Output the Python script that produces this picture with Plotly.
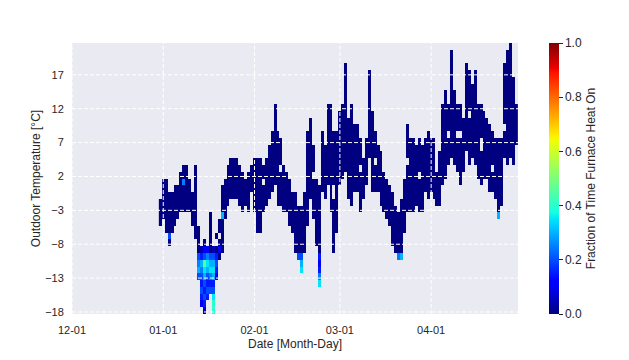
import numpy as np
import pandas as pd
import plotly.graph_objects as go

# ---------------- data ----------------
start_date = "2019-12-31"          # first day with data
# daily lowest / highest occupied temperature bin [°C]
day_lo = [-5, -4, -6, -8, -6, -5, -4, -3, -3, -3, -3, -5, -7,
          -13, -17, -18, -16, -15, -18, -13, -10, -9, -4, -2, -1, -1, -1, -2, -3, -2, -3,
          0, -3, -6, -6, -3, -2, -1, 0, 1, -2, -2, -3, -3, -5, -6, -9, -9, -12, -9,
          -5, -1, -4, -8, -14, 0, -1, 1, -3, -9, -6, 1, 2, 3, -1, -2, 0,
          0, -3, -1, 1, 5, 0, 0, 0, -2, -3, -4, -5, -8, -9, -10, -10, -6,
          -3, -3, -3, -2, -3, -3, 0, -1, 0, -1, -2, -2, 1, 2, 4, 5, 4, 3,
          1, 3, 6, 4, 5, 4, 2, 1, 2, 2, 0, 0, -1, -4, -2, 5, 4, 5, 4, 7]
day_hi = [-2, 1, 1, -1, -1, 0, 0, 2, 3, 3, 1, -1, 3,
          -6, -9, -8, -9, -4, -9, -7, -5, 0, 1, 3, 4, 4, 4, 3, 2, 1, 2,
          3, 4, 4, 4, 3, 4, 6, 8, 12, 8, 7, 3, 2, 1, -1, -1, -3, -3, -1,
          8, 10, 6, 1, 0, 8, 6, 12, 12, 8, 8, 11, 12, 18, 10, 12, 9,
          9, 7, 4, 7, 17, 11, 8, 6, 5, 2, 1, 0, -1, -3, -4, -2, 1,
          9, 7, 7, 6, 7, 6, 7, 8, 7, 7, 2, 5, 12, 14, 12, 20, 14, 12,
          12, 10, 18, 17, 15, 17, 12, 12, 11, 10, 9, 8, 7, 7, 7, 18, 20, 21, 16, 12]

# empty cells inside a day's range (day index, temperature)
hole_idx = [35, 41, 52, 59, 59, 68, 73, 84, 88, 98, 101, 102, 105, 109, 109, 113, 117, 19, 20]
hole_temp = [1, 3, 2, 0, -1, 3, 4, 4, 2, 8, 8, 8, 11, 6, 7, 3, 9, -8, -7]

# cells where the furnace ran part of the time (day index, temperature, fraction)
heat_idx = [13, 13, 13, 13,
            14, 14, 14, 14, 14, 14, 14, 14, 14,
            15, 15, 15, 15, 15, 15, 15, 15, 15, 15,
            16, 16, 16, 16, 16, 16, 16, 16,
            17, 17, 17, 17, 17, 17,
            18, 18, 18, 18, 18, 18, 18, 18, 18, 18,
            19, 19, 19, 19,
            20, 21, 3, 8, 47, 48, 48, 48,
            54, 54, 54, 54, 54, 81, 82, 115]
heat_temp = [-10, -11, -12, -13,
             -9, -10, -11, -12, -13, -14, -15, -16, -17,
             -9, -10, -11, -12, -13, -14, -15, -16, -17, -18,
             -9, -10, -11, -12, -13, -14, -15, -16,
             -10, -11, -12, -13, -14, -15,
             -9, -10, -11, -12, -13, -14, -15, -16, -17, -18,
             -10, -11, -12, -13,
             -9, -4, -7, 1, -10, -10, -11, -12,
             -10, -11, -12, -13, -14, -10, -10, -4]
heat_val = [0.20, 0.25, 0.30, 0.20,
            0.05, 0.15, 0.30, 0.25, 0.20, 0.15, 0.20, 0.15, 0.10,
            0.10, 0.20, 0.45, 0.35, 0.30, 0.20, 0.15, 0.20, 0.15, 0.05,
            0.10, 0.25, 0.35, 0.30, 0.20, 0.15, 0.20, 0.15,
            0.20, 0.30, 0.35, 0.25, 0.15, 0.20,
            0.05, 0.20, 0.30, 0.35, 0.30, 0.15, 0.20, 0.35, 0.40, 0.40,
            0.15, 0.20, 0.15, 0.10,
            0.10, 0.30, 0.20, 0.25, 0.20, 0.20, 0.30, 0.35,
            0.15, 0.10, 0.15, 0.25, 0.35, 0.25, 0.30, 0.30]

temp_bin_start = -18.3    # lower edge of the first 1 °C temperature bin
n_temp_bins = 40
x_range = ["2019-12-01", "2020-04-30 12:00"]
x_tick_vals = ["2019-12-01", "2020-01-01", "2020-02-01", "2020-03-01", "2020-04-01"]
x_tick_text = ["12-01", "01-01", "02-01", "03-01", "04-01"]
y_tick_vals = [-18, -13, -8, -3, 2, 7, 12, 17]
cbar_ticks = [0.0, 0.2, 0.4, 0.6, 0.8, 1.0]

# ---------------- build grid ----------------
dates = pd.date_range(start_date, periods=len(day_lo), freq="D")
y_centers = temp_bin_start + 0.5 + np.arange(n_temp_bins)


def tbin(t):
    return int(round(t - (temp_bin_start + 0.5)))


z = np.full((n_temp_bins, len(dates)), np.nan)
for i, (lo, hi) in enumerate(zip(day_lo, day_hi)):
    z[tbin(lo):tbin(hi) + 1, i] = 0.0
for i, t in zip(hole_idx, hole_temp):
    z[tbin(t), i] = np.nan
for i, t, v in zip(heat_idx, heat_temp, heat_val):
    z[tbin(t), i] = v

# matplotlib "jet" colormap
r_pts = [(0, 0), (0.35, 0), (0.66, 1), (0.89, 1), (1, 0.5)]
g_pts = [(0, 0), (0.125, 0), (0.375, 1), (0.64, 1), (0.91, 0), (1, 0)]
b_pts = [(0, 0.5), (0.11, 1), (0.34, 1), (0.65, 0), (1, 0)]
stops = sorted(set([p[0] for p in r_pts + g_pts + b_pts]))


def ch(pts, s):
    return np.interp(s, [p[0] for p in pts], [p[1] for p in pts])


jet = [[s, "rgb(%d,%d,%d)" % (round(255 * ch(r_pts, s)), round(255 * ch(g_pts, s)),
                              round(255 * ch(b_pts, s)))] for s in stops]

FONT = "Liberation Sans, Arial"
TXT = "#262626"

fig = go.Figure(go.Heatmap(
    x=dates, y=y_centers, z=z,
    colorscale=jet, zmin=0, zmax=1,
    hoverongaps=False,
    colorbar=dict(
        x=1.07, xanchor="left", xpad=0, ypad=0,
        y=0.5, len=1.0, lenmode="fraction",
        thickness=10, outlinewidth=0,
        tickvals=cbar_ticks, tickformat=".1f",
        ticks="outside", ticklen=4, tickcolor=TXT, tickwidth=1,
        tickfont=dict(family=FONT, size=12, color=TXT),
        title=dict(text="Fraction of Time Furnace Heat On", side="right",
                   font=dict(family=FONT, size=12, color=TXT)),
    ),
))

# dashed white grid drawn over the cells, as in the reference
grid = dict(color="white", width=1, dash="4px,2px")
for v in y_tick_vals:
    fig.add_shape(type="line", xref="paper", x0=0, x1=1, yref="y", y0=v, y1=v,
                  line=grid, layer="above")
for v in x_tick_vals:
    fig.add_shape(type="line", xref="x", x0=v, x1=v, yref="paper", y0=0, y1=1,
                  line=grid, layer="above")

axis_font = dict(family=FONT, size=11, color=TXT)
fig.update_layout(
    width=629, height=360,
    margin=dict(l=72, r=111, t=43, b=46),
    paper_bgcolor="white", plot_bgcolor="#EAEAF2",
    font=dict(family=FONT, color=TXT),
    xaxis=dict(
        range=x_range,
        tickvals=x_tick_vals, ticktext=x_tick_text,
        showgrid=False, zeroline=False, showline=False,
        ticks="outside", ticklen=6, tickcolor="rgba(0,0,0,0)", tickfont=axis_font,
        title=dict(text="Date [Month-Day]", font=dict(family=FONT, size=12, color=TXT),
                   standoff=4),
    ),
    yaxis=dict(
        range=[temp_bin_start, temp_bin_start + n_temp_bins],
        tickvals=y_tick_vals,
        showgrid=False, zeroline=False, showline=False,
        ticks="outside", ticklen=5, tickcolor="rgba(0,0,0,0)", tickfont=axis_font,
        title=dict(text="Outdoor Temperature [°C]", font=dict(family=FONT, size=12, color=TXT),
                   standoff=1),
    ),
)

fig.write_html("out.html")
